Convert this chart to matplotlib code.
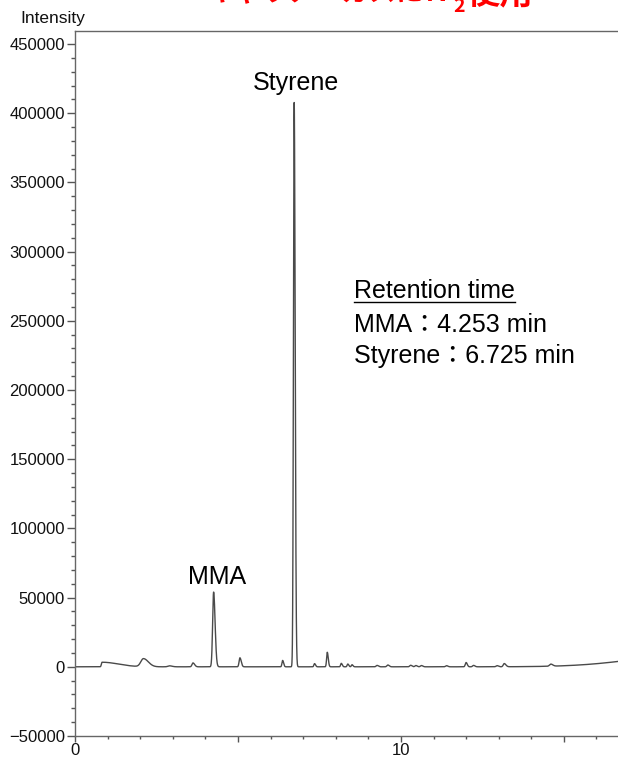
import numpy as np
import matplotlib
matplotlib.use("Agg")
import matplotlib.pyplot as plt
from matplotlib.ticker import MultipleLocator, FixedLocator
from matplotlib.lines import Line2D

# ---- data ----
peak_times = [0.83, 2.10, 2.90, 3.62, 4.253, 5.06, 6.37, 6.725, 7.35, 7.74, 8.17, 8.37, 8.50,
              9.27, 9.60, 10.30, 10.46, 10.63, 11.40, 12.00, 12.23, 12.95, 13.17, 14.60, 19.0]
peak_heights = [3300, 5800, 700, 2800, 54000, 6500, 4600, 408000, 2300, 10500, 2500, 2000, 1500,
                1000, 1300, 1100, 900, 900, 800, 3100, 1000, 800, 2300, 1500, 9000]
sigma_left = [0.02, 0.08, 0.05, 0.03, 0.03, 0.025, 0.02, 0.022, 0.02, 0.02, 0.02, 0.02, 0.02,
              0.03, 0.03, 0.03, 0.03, 0.03, 0.03, 0.025, 0.03, 0.03, 0.03, 0.04, 1.8]
sigma_right = [0.5, 0.15, 0.08, 0.05, 0.045, 0.04, 0.03, 0.03, 0.03, 0.03, 0.03, 0.03, 0.03,
               0.04, 0.04, 0.04, 0.04, 0.04, 0.04, 0.035, 0.04, 0.04, 0.05, 0.06, 1.8]

x_min, x_max = 0.0, 16.85
y_min, y_max = -50000, 459400
y_tick_values = [-50000, 0, 50000, 100000, 150000, 200000, 250000, 300000, 350000, 400000, 450000]
x_tick_values = [0, 5, 10, 15]
x_tick_labels = ["0", "", "10", ""]

label_styrene = "Styrene"
label_mma = "MMA"
rt_title = "Retention time"
rt_lines = ["MMA：4.253 min", "Styrene：6.725 min"]
title_main = "キャリアーガスにＮ"
title_sub = "2"
title_end = "使用"

# ---- build trace ----
t = np.linspace(x_min, x_max, 8000)
signal = np.zeros_like(t)
for tc, h, sl, sr in zip(peak_times, peak_heights, sigma_left, sigma_right):
    s = np.where(t < tc, sl, sr)
    signal += h * np.exp(-0.5 * ((t - tc) / s) ** 2)

W, H = 618, 761
fig = plt.figure(figsize=(W / 100, H / 100), dpi=100)
ax = fig.add_axes([75 / W, (H - 736) / H, 1 - 75 / W + 0.01, (736 - 31) / H])

ax.plot(t, signal, color="#4a4a4a", lw=1.0)
ax.set_xlim(x_min, x_max)
ax.set_ylim(y_min, y_max)

for side in ["left", "bottom", "top"]:
    ax.spines[side].set_color("#666666")
    ax.spines[side].set_linewidth(1.0)
ax.spines["right"].set_visible(False)

tick_font = dict(family="Liberation Sans", size=12)
ax.yaxis.set_major_locator(FixedLocator(y_tick_values))
ax.set_yticklabels([str(v).replace("-", "\u2212") for v in y_tick_values], fontdict=tick_font)
ax.yaxis.set_minor_locator(MultipleLocator(10000))
ax.xaxis.set_major_locator(FixedLocator(x_tick_values))
ax.set_xticklabels(x_tick_labels, fontdict=tick_font)
ax.xaxis.set_minor_locator(MultipleLocator(1))
ax.tick_params(axis="y", which="major", length=5.8, width=1, color="#555555", pad=1.5, labelcolor="#111111")
ax.tick_params(axis="y", which="minor", length=2.9, width=1, color="#555555")
ax.tick_params(axis="x", which="major", length=4.3, width=1, color="#555555", pad=0.5, labelcolor="#111111")
ax.tick_params(axis="x", which="minor", length=2.2, width=1, color="#555555")

def fx(px):
    return px / W

def fy(py):
    return 1 - py / H

fig.text(fx(20), fy(18), "Intensity", family="Liberation Sans", fontsize=12.5, va="center", ha="left", color="#111111")

ann_font = ["Liberation Sans", "Noto Sans CJK JP"]
fig.text(fx(296), fy(83), label_styrene, family=ann_font, fontsize=18, ha="center", va="center", color="black")
fig.text(fx(217), fy(577), label_mma, family=ann_font, fontsize=18, ha="center", va="center", color="black")

rt = fig.text(fx(354), fy(291), rt_title, family=ann_font, fontsize=18, ha="left", va="center", color="black")
for i, line in enumerate(rt_lines):
    fig.text(fx(354), fy(325 + 31.5 * i), line, family=ann_font, fontsize=18, ha="left", va="center", color="black")

fig.canvas.draw()
r = fig.canvas.get_renderer()
bb = rt.get_window_extent(r)
uy = H - 302
fig.add_artist(Line2D([bb.x0 / W, bb.x1 / W], [uy / H, uy / H], color="black", lw=1.0, transform=fig.transFigure))

# red heading, mostly cut off at the top
red_font = dict(family=["Noto Sans CJK JP", "DejaVu Sans"], color="#ff0000", fontweight="bold")
t1 = fig.text(fx(207), fy(1), title_main, fontsize=19.5, ha="left", va="baseline", **red_font)
fig.canvas.draw()
b1 = t1.get_window_extent(r)
t2 = fig.text(b1.x1 / W + 0.003, fy(12), title_sub, fontsize=14, ha="left", va="baseline", **red_font)
fig.canvas.draw()
b2 = t2.get_window_extent(r)
fig.text(b2.x1 / W + 0.004, fy(3), title_end, fontsize=24, ha="left", va="baseline", **red_font)

fig.savefig("out.png", dpi=100)
